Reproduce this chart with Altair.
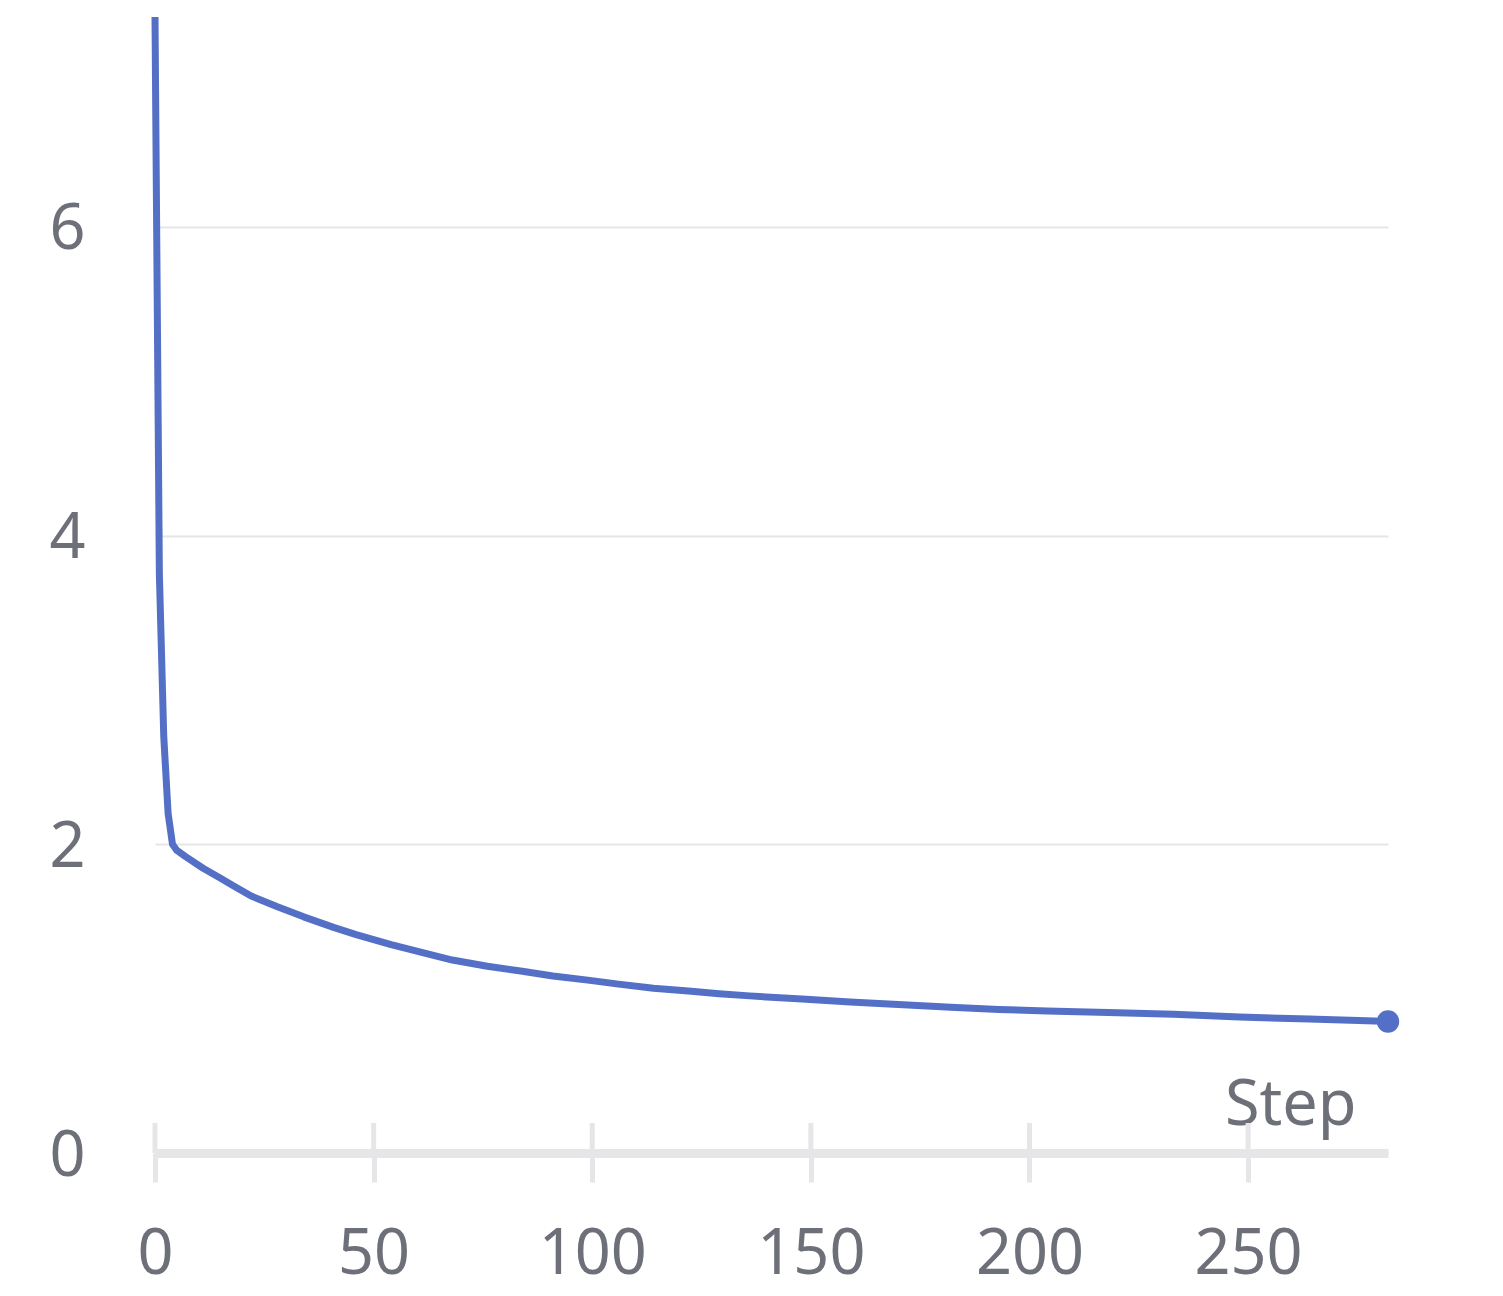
import altair as alt
import pandas as pd

steps = [0, 1, 2, 3, 4, 5, 7, 11, 15, 18, 22, 28, 34, 41, 46, 54, 61, 68, 76, 84,
         91, 99, 106, 114, 122, 129, 136, 148, 159, 170, 182, 193, 204, 218, 233,
         248, 264, 279, 282]
values = [7.36, 3.75, 2.7, 2.2, 2.0, 1.96, 1.92, 1.845, 1.78, 1.73, 1.665, 1.595,
          1.53, 1.46, 1.415, 1.35, 1.30, 1.25, 1.21, 1.178, 1.147, 1.12, 1.094,
          1.068, 1.05, 1.032, 1.018, 0.997, 0.979, 0.962, 0.945, 0.93, 0.92, 0.91,
          0.899, 0.881, 0.868, 0.855, 0.852]
x_ticks = [0, 50, 100, 150, 200, 250]
y_ticks = [0, 2, 4, 6]

W, H = 1233, 1136
FONT = "Noto Sans"
LABEL = "#6e7079"
AXIS = "#e6e6e9"
BLUE = "#5470c6"

df = pd.DataFrame({"Step": steps, "value": values})
last = df.tail(1)
ticks_df = pd.DataFrame({"Step": x_ticks})

xscale = alt.Scale(domain=[0, 282], nice=False, zero=False)
yscale = alt.Scale(domain=[0, 7.36], nice=False)

xaxis = alt.Axis(
    values=x_ticks, title="Step", grid=False, format="d", labelFlush=False,
    domainColor=AXIS, domainWidth=9,
    tickColor=AXIS, tickWidth=5, tickSize=29,
    labelFont=FONT, labelFontSize=63, labelColor=LABEL, labelPadding=41,
    titleFont=FONT, titleFontSize=63, titleFontWeight="normal", titleColor=LABEL,
    titleAnchor="end", titleAlign="right", titleBaseline="alphabetic",
    titleX=1201, titleY=-29,
)
yaxis = alt.Axis(
    values=y_ticks, title=None, domain=False, ticks=False, format="d",
    grid=True, gridColor=AXIS, gridWidth=2, gridOpacity=1, labelFlush=False,
    labelFont=FONT, labelFontSize=63, labelColor=LABEL, labelPadding=70,
    labelOffset=3,
)

tick_up = alt.Chart(ticks_df).mark_rule(color=AXIS, strokeWidth=5).encode(
    x=alt.X("Step:Q", scale=xscale, axis=xaxis),
    y=alt.YDatum(0, scale=yscale, axis=yaxis),
    y2=alt.value(H - 30),
)

line = alt.Chart(df).mark_line(color=BLUE, strokeWidth=7, strokeJoin="round").encode(
    x=alt.X("Step:Q", scale=xscale, axis=xaxis),
    y=alt.Y("value:Q", scale=yscale, axis=yaxis),
)

dot = alt.Chart(last).mark_circle(color=BLUE, size=500, opacity=1).encode(
    x=alt.X("Step:Q", scale=xscale),
    y=alt.Y("value:Q", scale=yscale),
)

chart = alt.layer(tick_up, line, dot).properties(
    width=W, height=H,
    autosize=alt.AutoSizeParams(type="none"),
    padding={"left": 147, "top": 9, "right": 100, "bottom": 140},
).configure(background="white").configure_view(stroke=None)

chart.save("out.html", embed_options={"renderer": "svg", "actions": False})
